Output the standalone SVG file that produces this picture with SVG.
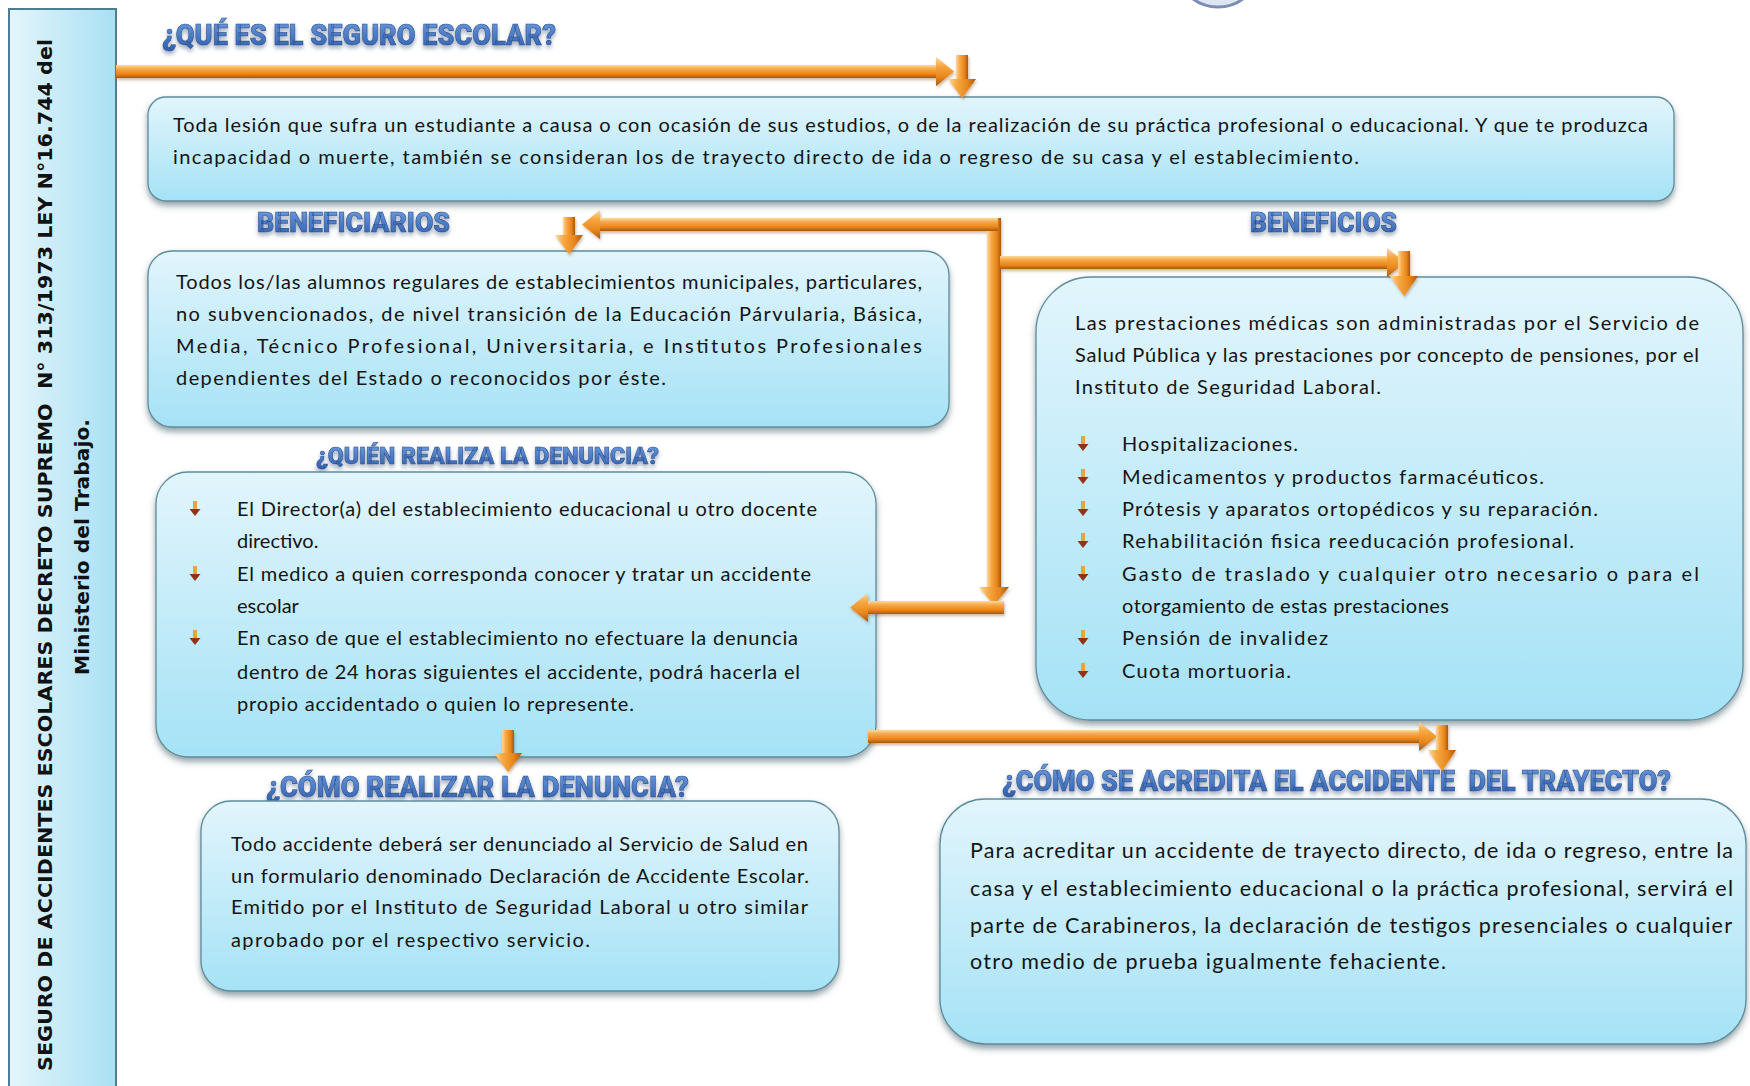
<svg xmlns="http://www.w3.org/2000/svg" xmlns:xlink="http://www.w3.org/1999/xlink" width="1750" height="1086" viewBox="0 0 1750 1086">
<defs>
<linearGradient id="tubeH" x1="0" y1="0" x2="0" y2="1">
<stop offset="0" stop-color="#fcd9a2"/><stop offset="0.3" stop-color="#f7a944"/><stop offset="0.7" stop-color="#e8861b"/><stop offset="1" stop-color="#a9570c"/>
</linearGradient>
<linearGradient id="tubeV" x1="0" y1="0" x2="1" y2="0">
<stop offset="0" stop-color="#fcd9a2"/><stop offset="0.3" stop-color="#f7a944"/><stop offset="0.7" stop-color="#e8861b"/><stop offset="1" stop-color="#a9570c"/>
</linearGradient>
<linearGradient id="boxFill" x1="0" y1="0" x2="0" y2="1">
<stop offset="0" stop-color="#e2f5fc"/><stop offset="1" stop-color="#a5e2f6"/>
</linearGradient>
<linearGradient id="barFill" x1="0" y1="0" x2="1" y2="0">
<stop offset="0" stop-color="#e4f5fb"/><stop offset="1" stop-color="#a8e0f4"/>
</linearGradient>
<linearGradient id="titleFill" x1="0" y1="0" x2="0" y2="1">
<stop offset="0" stop-color="#6f9fe2"/><stop offset="1" stop-color="#2e5cab"/>
</linearGradient>
<filter id="boxShadow" x="-5%" y="-10%" width="110%" height="125%">
<feDropShadow dx="0" dy="4" stdDeviation="3" flood-color="#3a5561" flood-opacity="0.55"/>
</filter>
<filter id="titleShadow" x="-5%" y="-30%" width="110%" height="180%">
<feDropShadow dx="0" dy="3" stdDeviation="2" flood-color="#7d8ea6" flood-opacity="0.75"/>
</filter>
<filter id="tubeShadow" x="-5%" y="-20%" width="110%" height="160%">
<feDropShadow dx="1" dy="2" stdDeviation="1.5" flood-color="#8a5a2a" flood-opacity="0.45"/>
</filter>
<g id="bul">
<rect x="-2" y="-8" width="4" height="9" fill="#f0a23a"/>
<polygon points="-5.5,0 5.5,0 0,7" fill="#8e3316"/>
</g>
</defs>
<style>
.box{fill:url(#boxFill);stroke:#5f8c9c;stroke-width:1.3;filter:url(#boxShadow)}
.txt{font-family:Lato,"Open Sans","Liberation Sans",sans-serif;font-size:20px;fill:#141414}
.big{font-size:21.5px}
.ttl{font-family:Roboto,"Liberation Sans",sans-serif;font-weight:900;fill:url(#titleFill);stroke:#2a4f8f;stroke-width:0.6;filter:url(#titleShadow)}
.side{font-family:"DejaVu Sans",Verdana,sans-serif;font-weight:bold;font-size:19px;fill:#111}
.tube{filter:url(#tubeShadow)}
</style>
<rect width="1750" height="1086" fill="#ffffff"/>
<ellipse cx="1218" cy="-30" rx="40" ry="37" fill="#dfe6f3" stroke="#7b8db6" stroke-width="3"/>

<g id="side-bar">
<rect x="9" y="9" width="107" height="1090" fill="url(#barFill)" stroke="#4d7d93" stroke-width="2"/>
<text class="side" transform="translate(52,555) rotate(-90)" text-anchor="middle" xml:space="preserve" textLength="1032" lengthAdjust="spacingAndGlyphs">SEGURO DE ACCIDENTES ESCOLARES DECRETO SUPREMO  N° 313/1973 LEY N°16.744 del</text>
<text class="side" transform="translate(89,547) rotate(-90)" text-anchor="middle" textLength="256" lengthAdjust="spacingAndGlyphs">Ministerio del Trabajo.</text>
</g>

<g id="que-es">
<text class="ttl" x="162" y="45" font-size="30" textLength="394" lengthAdjust="spacingAndGlyphs">¿QUÉ ES EL SEGURO ESCOLAR?</text>
<rect class="box" x="148" y="97" width="1526" height="104" rx="18"/>
<text class="txt" x="173" y="132" textLength="1475" lengthAdjust="spacing">Toda lesión que sufra un estudiante a causa o con ocasión de sus estudios, o de la realización de su práctica profesional o educacional. Y que te produzca</text>
<text class="txt" x="173" y="164" textLength="1186" lengthAdjust="spacing">incapacidad o muerte, también se consideran los de trayecto directo de ida o regreso de su casa y el establecimiento.</text>
</g>

<g id="beneficiarios">
<text class="ttl" x="257" y="232" font-size="27" textLength="193" lengthAdjust="spacingAndGlyphs">BENEFICIARIOS</text>
<rect class="box" x="148" y="251" width="801" height="176" rx="24"/>
<text class="txt" x="176" y="289" textLength="746" lengthAdjust="spacing">Todos los/las alumnos regulares de establecimientos municipales, particulares,</text>
<text class="txt" x="176" y="321" textLength="746" lengthAdjust="spacing">no subvencionados, de nivel transición de la Educación Párvularia, Básica,</text>
<text class="txt" x="176" y="353" textLength="746" lengthAdjust="spacing">Media, Técnico Profesional, Universitaria, e Institutos Profesionales</text>
<text class="txt" x="176" y="385" textLength="490" lengthAdjust="spacing">dependientes del Estado o reconocidos por éste.</text>
</g>

<g id="quien">
<text class="ttl" x="316" y="464" font-size="24" textLength="343" lengthAdjust="spacingAndGlyphs">¿QUIÉN REALIZA LA DENUNCIA?</text>
<rect class="box" x="156" y="472" width="720" height="285" rx="32"/>
<use href="#bul" x="195" y="509"/>
<use href="#bul" x="195" y="574"/>
<use href="#bul" x="195" y="638"/>
<text class="txt" x="237" y="516" textLength="580" lengthAdjust="spacing">El Director(a) del establecimiento educacional u otro docente</text>
<text class="txt" x="237" y="548">directivo.</text>
<text class="txt" x="237" y="581" textLength="574" lengthAdjust="spacing">El medico a quien corresponda conocer y tratar un accidente</text>
<text class="txt" x="237" y="613">escolar</text>
<text class="txt" x="237" y="645" textLength="561" lengthAdjust="spacing">En caso de que el establecimiento no efectuare la denuncia</text>
<text class="txt" x="237" y="679" textLength="563" lengthAdjust="spacing">dentro de 24 horas siguientes el accidente, podrá hacerla el</text>
<text class="txt" x="237" y="711" textLength="397" lengthAdjust="spacing">propio accidentado o quien lo represente.</text>
</g>

<g id="como-realizar">
<text class="ttl" x="266" y="797" font-size="30" textLength="423" lengthAdjust="spacingAndGlyphs">¿CÓMO REALIZAR LA DENUNCIA?</text>
<rect class="box" x="201" y="801" width="638" height="190" rx="30"/>
<text class="txt" x="231" y="851" textLength="577" lengthAdjust="spacing">Todo accidente deberá ser denunciado al Servicio de Salud en</text>
<text class="txt" x="231" y="883" textLength="578" lengthAdjust="spacing">un formulario denominado Declaración de Accidente Escolar.</text>
<text class="txt" x="231" y="914" textLength="577" lengthAdjust="spacing">Emitido por el Instituto de Seguridad Laboral u otro similar</text>
<text class="txt" x="231" y="947" textLength="359" lengthAdjust="spacing">aprobado por el respectivo servicio.</text>
</g>

<g id="beneficios">
<text class="ttl" x="1250" y="232" font-size="27" textLength="147" lengthAdjust="spacingAndGlyphs">BENEFICIOS</text>
<rect class="box" x="1036" y="277" width="707" height="443" rx="55"/>
<text class="txt" x="1075" y="330" textLength="624" lengthAdjust="spacing">Las prestaciones médicas son administradas por el Servicio de</text>
<text class="txt" x="1075" y="362" textLength="624" lengthAdjust="spacing">Salud Pública y las prestaciones por concepto de pensiones, por el</text>
<text class="txt" x="1075" y="394" textLength="306" lengthAdjust="spacing">Instituto de Seguridad Laboral.</text>
<use href="#bul" x="1083" y="444"/>
<use href="#bul" x="1083" y="477"/>
<use href="#bul" x="1083" y="509"/>
<use href="#bul" x="1083" y="541"/>
<use href="#bul" x="1083" y="574"/>
<use href="#bul" x="1083" y="638"/>
<use href="#bul" x="1083" y="671"/>
<text class="txt" x="1122" y="451" textLength="176" lengthAdjust="spacing">Hospitalizaciones.</text>
<text class="txt" x="1122" y="484" textLength="422" lengthAdjust="spacing">Medicamentos y productos farmacéuticos.</text>
<text class="txt" x="1122" y="516" textLength="476" lengthAdjust="spacing">Prótesis y aparatos ortopédicos y su reparación.</text>
<text class="txt" x="1122" y="548" textLength="452" lengthAdjust="spacing">Rehabilitación fisica reeducación profesional.</text>
<text class="txt" x="1122" y="581" textLength="577" lengthAdjust="spacing">Gasto de traslado y cualquier otro necesario o para el</text>
<text class="txt" x="1122" y="613" textLength="327" lengthAdjust="spacing">otorgamiento de estas prestaciones</text>
<text class="txt" x="1122" y="645" textLength="206" lengthAdjust="spacing">Pensión de invalidez</text>
<text class="txt" x="1122" y="678" textLength="169" lengthAdjust="spacing">Cuota mortuoria.</text>
</g>

<g id="acredita">
<text class="ttl" x="1002" y="791" font-size="30" xml:space="preserve" textLength="669" lengthAdjust="spacingAndGlyphs">¿CÓMO SE ACREDITA EL ACCIDENTE  DEL TRAYECTO?</text>
<rect class="box" x="940" y="799" width="806" height="245" rx="45"/>
<text class="txt big" x="970" y="858" textLength="763" lengthAdjust="spacing">Para acreditar un accidente de trayecto directo, de ida o regreso, entre la</text>
<text class="txt big" x="970" y="896" textLength="763" lengthAdjust="spacing">casa y el establecimiento educacional o la práctica profesional, servirá el</text>
<text class="txt big" x="970" y="933" textLength="762" lengthAdjust="spacing">parte de Carabineros, la declaración de testigos presenciales o cualquier</text>
<text class="txt big" x="970" y="969" textLength="476" lengthAdjust="spacing">otro medio de prueba igualmente fehaciente.</text>
</g>

<g id="connectors" class="tube">
<!-- top: side bar to que-es -->
<rect x="116" y="65" width="823" height="13" fill="url(#tubeH)"/>
<polygon points="936,57 954,71.5 936,86" fill="url(#tubeH)"/>
<rect x="956" y="55" width="12" height="25" fill="url(#tubeV)"/>
<polygon points="948,79 976,79 962,98" fill="url(#tubeV)"/>
<!-- vertical trunk -->
<rect x="987" y="218" width="14" height="372" fill="url(#tubeV)"/>
<polygon points="979,587 1009,587 994,605" fill="url(#tubeV)"/>
<!-- to beneficiarios -->
<rect x="598" y="218" width="400" height="13" fill="url(#tubeH)"/>
<polygon points="600,210 582,224.5 600,239" fill="url(#tubeH)"/>
<rect x="563" y="217" width="12" height="19" fill="url(#tubeV)"/>
<polygon points="555,235 583,235 569,254" fill="url(#tubeV)"/>
<!-- to beneficios -->
<rect x="1000" y="256" width="389" height="13" fill="url(#tubeH)"/>
<polygon points="1387,248 1405,262.5 1387,277" fill="url(#tubeH)"/>
<rect x="1398" y="251" width="12" height="26" fill="url(#tubeV)"/>
<polygon points="1390,276 1418,276 1404,296" fill="url(#tubeV)"/>
<!-- to quien -->
<rect x="866" y="601" width="138" height="13" fill="url(#tubeH)"/>
<polygon points="868,593 850,607.5 868,622" fill="url(#tubeH)"/>
<!-- quien to como-realizar -->
<rect x="502" y="730" width="12" height="24" fill="url(#tubeV)"/>
<polygon points="494,753 522,753 508,772" fill="url(#tubeV)"/>
<!-- quien to acredita -->
<rect x="868" y="730" width="553" height="13" fill="url(#tubeH)"/>
<polygon points="1419,722 1437,736.5 1419,751" fill="url(#tubeH)"/>
<rect x="1436" y="725" width="12" height="26" fill="url(#tubeV)"/>
<polygon points="1428,750 1456,750 1442,771" fill="url(#tubeV)"/>
</g>
</svg>
